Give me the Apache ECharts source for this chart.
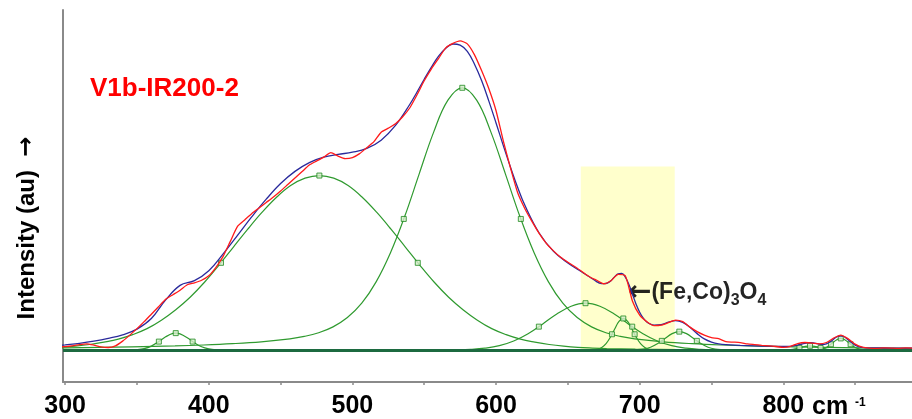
<!DOCTYPE html>
<html>
<head>
<meta charset="utf-8">
<script src="https://cdn.jsdelivr.net/npm/echarts@6/dist/echarts.min.js"></script>
<style>
  html, body { margin: 0; padding: 0; background: #fff; }
  #chart { width: 912px; height: 419px; }
</style>
</head>
<body>
<div id="chart"></div>
<script>
// Raman spectrum of sample V1b-IR200-2 with its peak-fit decomposition.
// Intensities are in arbitrary units above the fitted baseline (0).

const sampleName = 'V1b-IR200-2';
const xRange = [298.5, 889.6];          // Raman shift, cm-1
const yRange = [-32, 341];              // intensity, au
const tickValues = [300, 350, 400, 450, 500, 550, 600, 650, 700, 750, 800, 850];
const tickLabels = [300, 400, 500, 600, 700, 800];

// Measured spectrum, sampled every 5 cm-1 from 295 cm-1
const measuredStart = 295;
const measuredStep = 5;
const measured = [
  3.2, 3.5, 4.2, 5.5, 6.3, 5, 3.2, 2.6, 4.2, 9,
  15, 21.5, 28.5, 36, 43.5, 51, 55.5, 60, 65.5, 67.5,
  70, 74.5, 83, 94, 109, 124, 130.5, 137, 142.5, 148,
  153.5, 159.5, 166, 172.5, 179, 185.5, 189.5, 193.5, 198, 194.5,
  192, 193, 197, 203, 209, 218.5, 222.5, 227, 234, 243,
  256, 270, 282, 292.5, 303, 307.5, 310, 307, 296, 280,
  262, 240, 210, 183, 158, 142, 129, 117, 107, 99.5,
  93, 88, 83.5, 78.5, 73.5, 70, 66.5, 69.5, 76, 74.5,
  49, 35, 28.5, 24.5, 25, 27.5, 30, 28.5, 23, 18.5,
  15, 12.5, 11.5, 8.5, 8, 7.5, 6.2, 5.5, 4.8, 4.3,
  3.6, 2.8, 3.8, 6.5, 7.6, 7, 6.3, 7.6, 12, 15,
  11.5, 6, 3, 2, 1.8, 2.2, 2, 1.7, 2.2, 2
];

// Fitted envelope (sum of all bands)
const fitted = [
  [295,4.6],[300,5.3],[310,6.8],[320,8.9],[330,11.7],[340,15.3],[350,21.0],[360,31.6],
  [370,50.3],[380,64.9],[390,69.6],[400,79.6],[410,96.5],[420,115.1],[430,133.8],[440,151.3],
  [450,167],[460,179.2],[470,188.0],[480,193.4],[490,196.2],[500,198.4],[510,202.2],[520,210.5],
  [530,225.3],[540,246.5],[545,258.8],[550,271.6],[555,283.8],[560,294.7],[565,302.6],[570,306.9],
  [575,305.8],[580,299.5],[585,286.6],[590,270.0],[595,249.6],[600,227.7],[605,205.3],[610,183.6],
  [615,163.3],[620,145.4],[630,117.4],[640,99.0],[650,87.4],[660,78.1],[665,73.5],[670,68.7],
  [672.5,67.0],[675,66.7],[677.5,67.2],[680,69.5],[682.5,73.4],[685,76.4],[687.5,76.9],[690,73.2],
  [692.5,65.8],[695,56.0],[697.5,46.0],[700,38.0],[702.5,32.0],[705,28.2],[707.5,26.0],[710,25.1],
  [715,25.6],[720,28.0],[725,29.6],[730,27.8],[735,22.8],[740,16.5],[745,11.2],[750,8.0],
  [755,6.2],[760,5.4],[770,4.8],[780,4.3],[790,3.9],[800,3.6],[805,3.8],[810,5.0],
  [813,6.1],[816,7.1],[818.6,7.4],[821,7.1],[824,6.2],[827,5.6],[830,6.3],[833,8.7],
  [836,12.1],[838,13.7],[840,14.3],[842,13.6],[844,11.7],[847,8.1],[850,5.0],[853,3.2],
  [856,2.5],[860,2.2],[870,2.1],[880,2.0],[895,1.9]
];

// Individual fitted bands
const band377 = [[340,0.02],[345,0.1],[350,0.4],[355,1.5],[360,4.0],[365,8.3],[370,13.3],[375,16.7],
  [377,17],[380,16.2],[385,12.3],[390,7.3],[395,3.3],[400,1.2],[405,0.3],[410,0.1],[415,0.02]];
const band477 = [[295,2.6],[300,3.1],[307,3.9],[317,5.6],[327,8],[337,11],[347,15.5],[357,21.5],
  [367,30],[377,40.5],[387,53],[397,68],[407,85],[417,103],[427,121],[437,138],[447,153],
  [457,165],[467,172.4],[477,175],[487,172.4],[497,165],[507,153],[517,138],[527,121],[537,103],
  [547,85],[557,68],[567,53],[577,40.5],[587,30],[597,21.5],[607,15.5],[617,11],[627,8],
  [637,5.6],[647,3.9],[657,2.7],[667,2.0],[677,1.5],[697,0.9],[727,0.5],[777,0.2],[895,0.1]];
const band577 = [[295,2.15],[300,2.2],[346.5,3.2],[376.5,4.2],[396.5,5.1],[416.5,6.4],[436.5,8.3],
  [456.5,11.3],[466.5,13.7],[476.5,17.4],[486.5,23.3],[496.5,32.6],[506.5,47],[516.5,68.4],
  [526.5,97.6],[536.5,134.4],[546.5,176.7],[556.5,218.3],[566.5,250.6],[576.5,263],[586.5,250.6],
  [596.5,218.3],[606.5,176.7],[616.5,134.4],[626.5,97.6],[636.5,68.4],[646.5,47],[656.5,32.6],
  [666.5,23.3],[676.5,17.4],[686.5,13.7],[696.5,11.3],[716.5,8.3],[736.5,6.4],[756.5,5.1],
  [776.5,4.2],[806.5,3.2],[853,2.2],[895,1.8]];
const band662 = [[562.3,0.07],[572.3,0.23],[582.3,0.7],[592.3,1.9],[602.3,4.4],[612.3,9.1],
  [622.3,16.4],[632.3,26.0],[642.3,36.2],[652.3,44.0],[662.3,47],[672.3,44.0],[682.3,36.2],
  [692.3,26.0],[702.3,16.4],[712.3,9.1],[722.3,4.4],[732.3,1.9],[742.3,0.7],[752.3,0.23],[762.3,0.07]];
const band689 = [[662.6,0.02],[666.6,0.15],[670.6,0.87],[673.6,2.6],[676.6,6.4],[679.6,12.9],
  [682.6,21.2],[685.6,28.7],[688.6,31.7],[691.6,28.7],[694.6,21.2],[697.6,12.9],[700.6,6.4],
  [703.6,2.6],[706.6,0.87],[710.6,0.15],[714.6,0.02]];
const band728 = [[692.6,0.06],[697.6,0.28],[702.6,1.0],[707.6,2.9],[712.6,6.5],[717.6,11.6],
  [722.6,16.5],[727.6,18.5],[732.6,16.5],[737.6,11.6],[742.6,6.5],[747.6,2.9],[752.6,1.0],
  [757.6,0.28],[762.6,0.06]];
const band819 = [[798.6,0.03],[802.6,0.16],[806.6,0.68],[810.6,1.9],[814.6,3.5],[818.6,4.3],
  [822.6,3.5],[826.6,1.9],[830.6,0.68],[834.6,0.16],[838.6,0.03]];
const band840 = [[819,0.01],[822,0.1],[825,0.42],[828,1.4],[831,3.5],[834,6.9],[837,10.2],
  [840,11.7],[843,10.2],[846,6.9],[849,3.5],[852,1.4],[855,0.42],[858,0.1],[861,0.01]];

// Band parameters: centre (cm-1), height (au), FWHM (cm-1)
const peakCentre = [377, 477, 576.5, 662.3, 688.6, 727.6, 818.6, 840];
const peakHeight = [17, 175, 263, 47, 31.7, 18.5, 4.3, 11.7];
const peakFwhm   = [23.5, 137, 81.5, 65, 15.8, 24.4, 14.7, 13.7];

// Spinel region highlight and its label
const spinelBand = [659, 724.4];
const spinelBandTop = 184;
const spinelLabelAt = [691.5, 57.5];

const FONT = "'Liberation Sans', Arial, Helvetica, sans-serif";
const ARROW_FONT = "'DejaVu Sans', 'Liberation Sans', sans-serif";
const BAND_GREEN = '#2f9a2f';
const INK = 'rgba(0,0,0,0.86)';

const measuredData = measured.map((v, i) => [measuredStart + i * measuredStep, v]);

// Peak-top and half-height handles for each band
const handles = [];
peakCentre.forEach((c, i) => {
  const h = peakHeight[i], hw = peakFwhm[i] / 2;
  handles.push([c - hw, h / 2], [c, h], [c + hw, h / 2]);
});

const bands = [band377, band477, band577, band662, band689, band728, band819, band840];

const series = [];

// Highlighted region behind everything
series.push({
  type: 'line', data: [], silent: true, z: 1,
  markArea: {
    silent: true,
    itemStyle: { color: '#FFFFCC' },
    data: [[{ xAxis: spinelBand[0], yAxis: 0 }, { xAxis: spinelBand[1], yAxis: spinelBandTop }]]
  }
});

bands.forEach(b => {
  series.push({
    type: 'line', data: b, smooth: 0.4, showSymbol: false, silent: true, z: 2,
    lineStyle: { color: BAND_GREEN, width: 1.2 }
  });
});

// Baseline
series.push({
  type: 'line', data: [], silent: true, z: 3,
  markLine: {
    silent: true, symbol: ['none', 'none'], label: { show: false },
    lineStyle: { color: '#1c6a40', width: 3, type: 'solid' },
    data: [{ yAxis: 0 }]
  }
});

series.push({
  type: 'scatter', data: handles, symbol: 'rect', symbolSize: 5, silent: true, z: 4,
  itemStyle: { color: '#d4ecc9', borderColor: '#1f8a1f', borderWidth: 1 }
});

series.push({
  type: 'line', data: fitted, smooth: 0.4, showSymbol: false, silent: true, z: 5,
  lineStyle: { color: '#2a2a9c', width: 1.3 }
});

series.push({
  type: 'line', data: measuredData, smooth: 0.2, showSymbol: false, silent: true, z: 6,
  lineStyle: { color: '#ff1a1a', width: 1.3 },
  markPoint: {
    silent: true, symbol: 'rect', symbolSize: 1,
    itemStyle: { color: 'rgba(0,0,0,0)' },
    label: {
      show: true, position: 'right', distance: 0,
      formatter: '{a|←}{b|(Fe,Co)}{s|3}{b|O}{s|4}',
      rich: {
        a: { fontFamily: ARROW_FONT, fontWeight: 'bold', fontSize: 28, color: INK, lineHeight: 32 },
        b: { fontFamily: FONT, fontWeight: 'bold', fontSize: 23, color: INK, lineHeight: 32 },
        s: { fontFamily: FONT, fontWeight: 'bold', fontSize: 16, color: INK, lineHeight: 16, verticalAlign: 'bottom' }
      }
    },
    data: [{ coord: spinelLabelAt }]
  }
});

const chart = echarts.init(document.getElementById('chart'), null, { renderer: 'canvas' });
chart.setOption({
  animation: false,
  backgroundColor: '#fff',
  title: {
    text: sampleName, left: 90, top: 76, padding: 0,
    textStyle: { color: '#ff0000', fontSize: 26, fontWeight: 'bold', fontFamily: FONT }
  },
  grid: { left: 63, right: 0, top: 10, bottom: 36 },
  xAxis: {
    type: 'value', min: xRange[0], max: xRange[1],
    axisLine: { onZero: false, lineStyle: { color: '#8a8a8a', width: 2 } },
    axisTick: { show: true, customValues: tickValues, length: 3, lineStyle: { color: '#8a8a8a', width: 1.5 } },
    axisLabel: {
      customValues: tickLabels, margin: 12, color: '#000',
      fontSize: 25, fontWeight: 'bold', fontFamily: FONT
    },
    splitLine: { show: false }
  },
  yAxis: {
    type: 'value', min: yRange[0], max: yRange[1],
    axisLine: { show: true, onZero: false, lineStyle: { color: '#8a8a8a', width: 2 } },
    axisTick: { show: false }, axisLabel: { show: false }, splitLine: { show: false }
  },
  graphic: [
    {
      type: 'text', x: 27, y: 228, rotation: Math.PI / 2,
      style: {
        text: '{t|Intensity (au)  }{a|→}',
        align: 'center', verticalAlign: 'middle',
        rich: {
          t: { font: 'bold 24px ' + FONT, fill: '#000' },
          a: { font: 'bold 24px ' + ARROW_FONT, fill: '#000' }
        }
      }
    },
    {
      type: 'text', x: 812, y: 395,
      style: { text: 'cm', font: 'bold 25px ' + FONT, fill: '#000', align: 'left', verticalAlign: 'top' }
    },
    {
      type: 'text', x: 855, y: 397,
      style: { text: '-1', font: 'bold 12px ' + FONT, fill: '#000', align: 'left', verticalAlign: 'top' }
    }
  ],
  series: series
});
</script>
</body>
</html>
